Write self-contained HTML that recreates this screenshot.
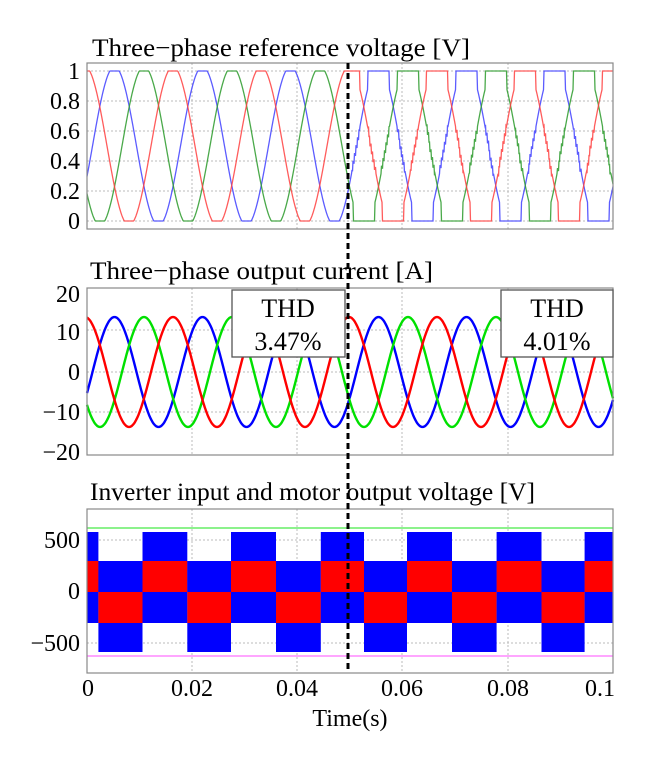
<!DOCTYPE html>
<html><head><meta charset="utf-8"><style>
html,body{margin:0;padding:0;background:#fff;}
svg text{font-family:"Liberation Serif",serif;fill:#000;}
</style></head><body>
<svg id="s" width="645" height="767" viewBox="0 0 645 767" xmlns="http://www.w3.org/2000/svg">
<rect width="645" height="767" fill="#fff"/>
<g id="grid" stroke="#bbb" stroke-width="1" stroke-dasharray="2,2"></g>
<g id="series"></g>
<g fill="none" stroke="#888" stroke-width="1.2">
<rect x="87" y="63" width="526" height="166"/>
<rect x="87" y="288" width="526" height="167"/>
<rect x="87" y="509" width="526" height="164"/>
</g>
<text x="92" y="56" font-size="25" textLength="378" lengthAdjust="spacingAndGlyphs">Three−phase reference voltage [V]</text>
<text x="90" y="279" font-size="25" textLength="343" lengthAdjust="spacingAndGlyphs">Three−phase output current [A]</text>
<text x="90" y="500" font-size="25" textLength="445" lengthAdjust="spacingAndGlyphs">Inverter input and motor output voltage [V]</text>
<g font-size="24" text-anchor="end">
<text x="80" y="79">1</text>
<text x="80" y="109">0.8</text>
<text x="80" y="139">0.6</text>
<text x="80" y="169">0.4</text>
<text x="80" y="199">0.2</text>
<text x="80" y="229">0</text>
<text x="80" y="302">20</text>
<text x="80" y="340">10</text>
<text x="80" y="380">0</text>
<text x="80" y="420">−10</text>
<text x="80" y="460">−20</text>
<text x="80" y="548">500</text>
<text x="80" y="599">0</text>
<text x="80" y="651">−500</text>
</g>
<g font-size="24" text-anchor="middle">
<text x="88" y="696">0</text>
<text x="192" y="696">0.02</text>
<text x="297" y="696">0.04</text>
<text x="402" y="696">0.06</text>
<text x="508" y="696">0.08</text>
<text x="600" y="696">0.1</text>
<text x="350" y="726">Time(s)</text>
</g>
<g id="thd">
<rect x="232" y="290" width="113" height="67" fill="#fff" stroke="#555" stroke-width="1.3"/>
<rect x="501" y="290" width="112" height="67" fill="#fff" stroke="#555" stroke-width="1.3"/>
<g font-size="26" text-anchor="middle">
<text x="288" y="317">THD</text>
<text x="288" y="350">3.47%</text>
<text x="557" y="317">THD</text>
<text x="557" y="350">4.01%</text>
</g>
</g>
<line x1="348" y1="63" x2="348" y2="670" stroke="#000" stroke-width="3" stroke-dasharray="6,4"/>
</svg>
<script>
(function(){
var NS="http://www.w3.org/2000/svg";
var g=document.getElementById('grid'), S=document.getElementById('series');
function el(p,tag,a){var e=document.createElementNS(NS,tag);for(var k in a)e.setAttribute(k,a[k]);p.appendChild(e);return e;}
function hl(y){el(g,'line',{x1:87,x2:613,y1:y,y2:y});}
function vl(x,y1,y2){el(g,'line',{x1:x,x2:x,y1:y1,y2:y2});}
[71,101,131,161,191,221].forEach(function(y){hl(y)});
[330,372,412].forEach(function(y){hl(y)});
[540,643].forEach(function(y){hl(y)});
[192,297,402,508].forEach(function(x){vl(x,63,229);vl(x,288,455);vl(x,509,673);});
var P=88, peaks={blue:114.5,'#2a9a2a':144,red:173};
var topCol={blue:'#4040ff','#2a9a2a':'#2a9a2a',red:'#ff4040'};
for(var c in peaks){
 var d='';
 for(var x=87;x<=613;x+=0.5){
  var th=2*Math.PI*(x-peaks[c])/P, s=0.5+0.53*Math.cos(th);
  if(x>=348){ if(s>0.88)s=1; else if(s<0.12)s=0;
   else if(s>0.33&&s<0.62){var ph=((x*0.7)%1); s+= (Math.sin(th)>0?1:-1)*0.08*(ph-0.5);} }
  s=Math.max(0,Math.min(1,s));
  d+=(d?'L':'M')+x.toFixed(1)+','+(221-150*s).toFixed(1);
 }
 el(S,'path',{d:d,fill:'none',stroke:topCol[c],'stroke-width':1.3,opacity:0.85});
}
var curCol={blue:'#0000ff','#2a9a2a':'#00e000',red:'#ff0000'};
for(var c in peaks){
 var d='';
 for(var x=87;x<=613;x+=0.5){
  var th=2*Math.PI*(x-peaks[c])/P, v=13.4*Math.cos(th);
  d+=(d?'L':'M')+x.toFixed(1)+','+(372-4.1*v).toFixed(1);
 }
 el(S,'path',{d:d,fill:'none',stroke:curCol[c],'stroke-width':2.4});
}
el(S,'line',{x1:87,x2:613,y1:528,y2:528,stroke:'#66ee66','stroke-width':1.5});
el(S,'line',{x1:87,x2:613,y1:656,y2:656,stroke:'#ff88ff','stroke-width':1.5});
var tr=[87,98.4,142.5,187.3,231,276,320.8,364,407,452,496.6,541.5,584.6,613];
for(var i=0;i<tr.length-1;i++){
 var a=tr[i],b=tr[i+1],pos=(i%2==0);
 if(pos){el(S,'rect',{x:a,y:532,width:b-a,height:91,fill:'#0000ff'});el(S,'rect',{x:a,y:561,width:b-a,height:31,fill:'#ff0000'});}
 else{el(S,'rect',{x:a,y:561,width:b-a,height:91,fill:'#0000ff'});el(S,'rect',{x:a,y:592,width:b-a,height:31,fill:'#ff0000'});}
}
var t=document.getElementById('thd');t.parentNode.appendChild(t);
var dl=document.querySelector('line[stroke-dasharray="6,4"]');dl.parentNode.appendChild(dl);
})();
</script>
</body></html>
